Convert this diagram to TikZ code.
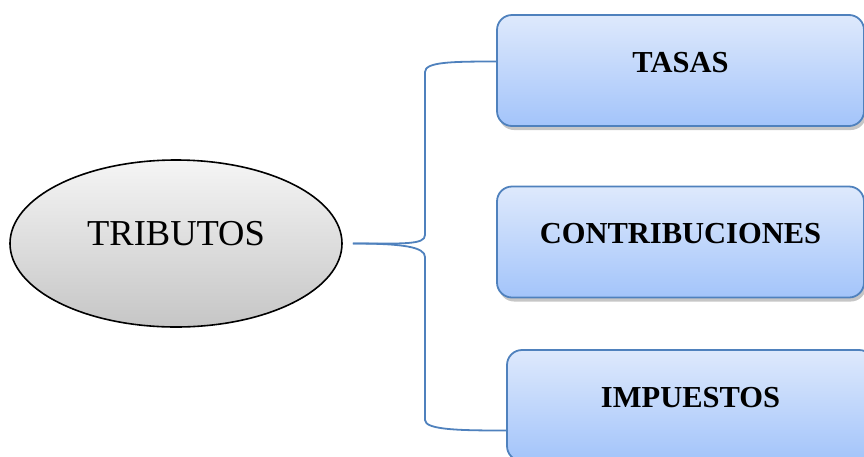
\documentclass[tikz,border=0pt]{standalone}
\usepackage{fontspec}
\setmainfont{Liberation Serif}
\usetikzlibrary{shapes.geometric,shadows}
\definecolor{boxline}{RGB}{79,129,189}
\definecolor{boxtop}{RGB}{222,233,252}
\definecolor{boxbottom}{RGB}{163,196,250}
\begin{document}
\begin{tikzpicture}[
			x=1pt, y=-1pt,
			link/.style={draw=boxline, line width=1.8pt},
			tribnode/.style={
					ellipse,
					draw=black,
					line width=1.6pt,
					top color=gray!8,
					bottom color=gray!45,
					minimum width=332pt,
					minimum height=167pt,
					inner sep=0pt,
					font=\fontsize{36.5}{42}\selectfont,
					text height=24pt,
					text depth=20pt
				},
			kindbox/.style={
					draw=boxline,
					line width=1.8pt,
					rounded corners=15pt,
					top color=boxtop,
					bottom color=boxbottom,
					drop shadow={opacity=0.45, shadow xshift=2pt, shadow yshift=-4pt},
					minimum width=367pt,
					minimum height=111pt,
					inner sep=0pt,
					font=\bfseries\fontsize{30.5}{36}\selectfont,
					text height=20pt,
					text depth=17pt
				}
		]
		\useasboundingbox (0,0) rectangle (864,456);
		\clip (0,0) rectangle (864,456);
		\node[tribnode] (trib) at (176,243.5) {TRIBUTOS};
		\node[kindbox] (tasas) at (680.5,70.5) {TASAS};
		\node[kindbox] (contrib) at (680.5,242) {CONTRIBUCIONES};
		\node[kindbox] (imp) at (690.5,405.5) {IMPUESTOS};
		% brace from the ellipse to the first and last box
		\coordinate (src) at ([xshift=10pt]trib.east);
		\draw[link] (src) .. controls +(50,0) and +(0,10) .. (425,235)
			-- (425,72) .. controls +(0,-10) and +(-45,0) .. ([yshift=9pt]tasas.west);
		\draw[link] (src) .. controls +(50,0) and +(0,-10) .. (425,257)
			-- (425,420) .. controls +(0,10) and +(-45,0) .. ([yshift=-25pt]imp.west);
	\end{tikzpicture}
\end{document}
